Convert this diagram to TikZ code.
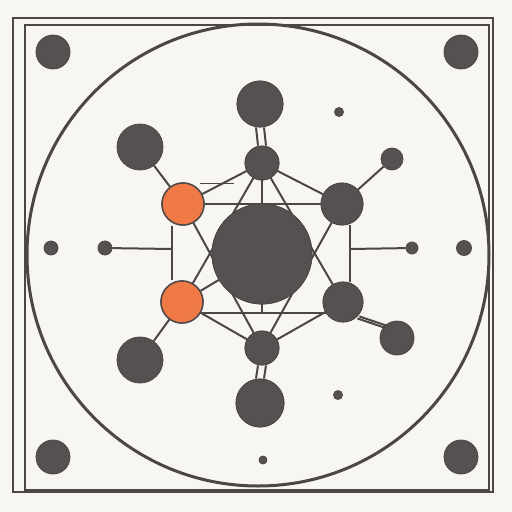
\documentclass[tikz,border=0pt]{standalone}
\definecolor{bg}{HTML}{F7F6F2}
\definecolor{ink}{HTML}{575050}
\definecolor{ln}{HTML}{4C4646}
\definecolor{org}{HTML}{F07A45}
\begin{document}
\begin{tikzpicture}[x=1pt,y=-1pt,
  dot/.style={circle,fill=ink,draw=ln,line width=0.8pt,inner sep=0pt,minimum size=#1},
  odot/.style={circle,fill=org,draw=ln,line width=1.4pt,inner sep=0pt,minimum size=#1},
  conn/.style={draw=ln,line width=2pt},
  thinln/.style={draw=ln,line width=1pt}]
\fill[bg] (0,0) rectangle (512,512);
\useasboundingbox (0,0) rectangle (512,512);
% frame
\draw[ln,line width=2.6pt] (13,18) rectangle (493,492);
\draw[ln,line width=1.8pt] (25,25) rectangle (489,490);
\draw[ln,line width=3pt] (258,255) circle (231);
% corner and small dots
\node[dot=34pt] (c1) at (53,52) {};
\node[dot=34pt] (c2) at (461,52) {};
\node[dot=34pt] (c3) at (53,457) {};
\node[dot=34pt] (c4) at (461,457) {};
\node[dot=14pt] (s1) at (51,248) {};
\node[dot=14pt] (s2) at (105,248) {};
\node[dot=12pt] (s3) at (412,248) {};
\node[dot=15pt] (s4) at (464,248) {};
\node[dot=9pt] (s5) at (339,112) {};
\node[dot=9pt] (s6) at (338,395) {};
\node[dot=8pt] (s7) at (263,460) {};
% frame coordinates
\coordinate (lb) at (172,313);
\coordinate (rb) at (350,313);
\coordinate (lv) at (172,249);
\coordinate (rm) at (350,249);
\coordinate (cb) at (262,313);
\coordinate (a1) at (200,183);
\coordinate (a2) at (234,183);
% main nodes
\node[dot=100pt] (C) at (262,254) {};
\node[dot=46pt] (T) at (260,104) {};
\node[dot=34pt] (tm) at (262,163) {};
\node[dot=34pt] (bm) at (262,348) {};
\node[dot=48pt] (B) at (260,403) {};
\node[dot=46pt] (UL) at (140,147) {};
\node[dot=46pt] (LL) at (140,360) {};
\node[odot=42pt] (OU) at (183,204) {};
\node[odot=42pt] (OL) at (182,302) {};
\node[dot=42pt] (RU) at (342,204) {};
\node[dot=40pt] (RL) at (343,302) {};
\node[dot=22pt] (ur) at (392,159) {};
\node[dot=34pt] (lr) at (397,338) {};
% connectors
\path[conn] (UL) -- (OU);
\path[conn] (LL) -- (OL);
\path[conn] (RU) -- (ur);
\path[conn] ([yshift=-2pt]RL.south east) -- ([yshift=-2pt]lr.north west);
\path[conn] ([xshift=2pt]RL.south east) -- ([xshift=2pt]lr.north west);
\path[conn] ([xshift=-4pt]T.south) -- ([xshift=-4pt]tm.north);
\path[conn] ([xshift=4pt]T.south) -- ([xshift=4pt]tm.north);
\path[conn] ([xshift=-4pt]bm.south) -- ([xshift=-4pt]B.north);
\path[conn] ([xshift=4pt]bm.south) -- ([xshift=4pt]B.north);
\path[conn] (OU) -- (RU);
\path[conn] (OL) -- (C);
\path[conn] (OL.south east |- lb) -- (RL.south west |- rb);
\path[conn] (lv |- OU.south) -- (lv |- OL.north);
\path[conn] (rm |- RU.south) -- (rm |- RL.north);
\path[conn] (tm) -- (C);
\path[conn] (C) -- (cb);
\path[conn] (s2) -- (lv);
\path[conn] (rm) -- (s3);
\path[thinln] (a1) -- (a2);
% hexagon
\path[conn] (tm) -- (OU);
\path[conn] (tm) -- (RU);
\path[conn] (bm) -- (OL);
\path[conn] (bm) -- (RL);
% triangles
\path[conn] (tm) -- (OL);
\path[conn] (tm) -- (RL);
\path[conn] (bm) -- (OU);
\path[conn] (bm) -- (RU);
% redraw nodes on top of connectors
\node[dot=100pt] at (C) {};
\node[dot=34pt] at (tm) {};
\node[dot=34pt] at (bm) {};
\node[odot=42pt] at (OU) {};
\node[odot=42pt] at (OL) {};
\node[dot=42pt] at (RU) {};
\node[dot=40pt] at (RL) {};
\node[dot=46pt] at (T) {};
\node[dot=48pt] at (B) {};
\end{tikzpicture}
\end{document}
